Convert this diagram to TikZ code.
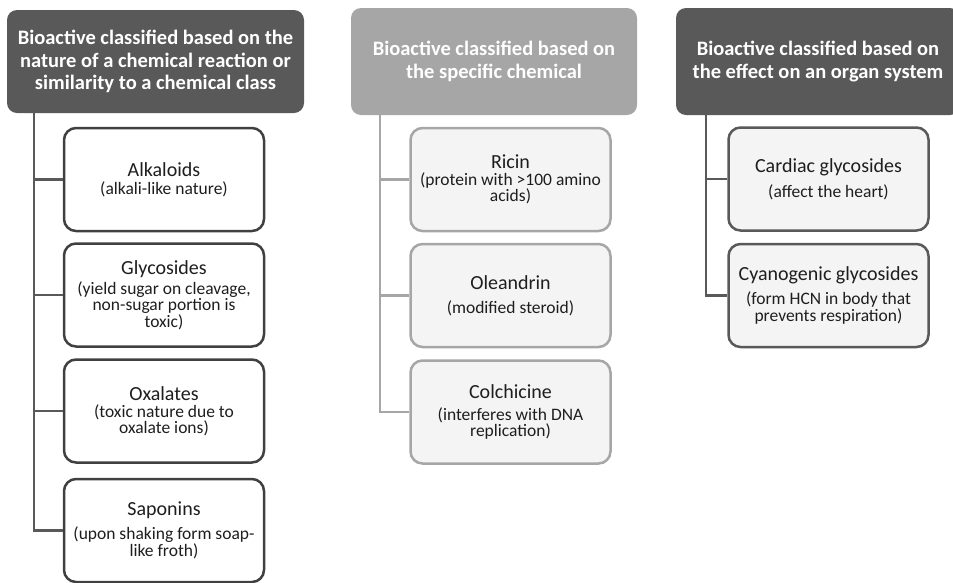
\documentclass[tikz,border=0pt]{standalone}
\usepackage{fontspec}
\setmainfont{Carlito}
\definecolor{hdark}{HTML}{595959}
\definecolor{hlight}{HTML}{A6A6A6}
\definecolor{bdark}{HTML}{404040}
\definecolor{bfill}{HTML}{F4F4F4}
\definecolor{txt}{HTML}{1E1E1E}
\tikzset{
  hdr/.style={rectangle, rounded corners=10pt, inner sep=0pt, align=center, text=white,
    font=\fontsize{20.5}{22.5}\selectfont\bfseries},
  itembox/.style={rectangle, rounded corners=12pt, line width=2.5pt, inner sep=0pt,
    minimum width=200pt, minimum height=103pt, align=center, text=txt},
  boxA/.style={itembox, draw=bdark, fill=white},
  boxB/.style={itembox, draw=hlight, fill=bfill},
  boxC/.style={itembox, draw=hdark, fill=bfill},
  conA/.style={draw=hdark, line width=2.5pt},
  conB/.style={draw=hlight, line width=2.5pt},
}
\newcommand{\ttl}[1]{{\fontsize{20}{23}\selectfont #1}}
\newcommand{\sbt}[1]{{\fontsize{17.5}{18.5}\selectfont #1}}
\begin{document}
\begin{tikzpicture}[x=1pt,y=-1pt]
\useasboundingbox (0,0) rectangle (953,582);
% headers
\node[hdr, fill=hdark, minimum width=297pt, minimum height=103pt] (h1) at (155.5,61.5)
  {Bioactive classified based on the\\nature of a chemical reaction or\\similarity to a chemical class};
\node[hdr, fill=hlight, minimum width=286pt, minimum height=107pt] (h2) at (494,61.5)
  {Bioactive classified based on\\the specific chemical};
\node[hdr, fill=hdark, minimum width=284pt, minimum height=107pt] (h3) at (818,61.5)
  {Bioactive classified based on\\the effect on an organ system};
% column 1
\node[boxA] (alk) at (164,179.5) {\ttl{Alkaloids}\\[4pt]\sbt{(alkali-like nature)}};
\node[boxA] (gly) at (164,295) {\ttl{Glycosides}\\[3pt]\sbt{(yield sugar on cleavage,}\\\sbt{non-sugar portion is}\\\sbt{toxic)}};
\node[boxA] (oxa) at (164,411) {\ttl{Oxalates}\\[3pt]\sbt{(toxic nature due to}\\\sbt{oxalate ions)}};
\node[boxA] (sap) at (164,530.5) {\ttl{Saponins}\\[7pt]\sbt{(upon shaking form soap-}\\\sbt{like froth)}};
% column 2
\node[boxB] (ric) at (510.5,179.5) {\ttl{Ricin}\\[3pt]\sbt{(protein with >100 amino}\\\sbt{acids)}};
\node[boxB] (ole) at (510.5,295.5) {\ttl{Oleandrin}\\[10pt]\sbt{(modified steroid)}};
\node[boxB] (col) at (510.5,412) {\ttl{Colchicine}\\[8pt]\sbt{(interferes with DNA}\\\sbt{replication)}};
% column 3
\node[boxC] (car) at (828.5,179) {\ttl{Cardiac glycosides}\\[8pt]\sbt{(affect the heart)}};
\node[boxC] (cya) at (828.5,295.5) {\ttl{Cyanogenic glycosides}\\[7pt]\sbt{(form HCN in body that}\\\sbt{prevents respiration)}};
% connector anchors
\coordinate (v1) at (34,112);
\coordinate (v2) at (380,114);
\coordinate (v3) at (706,114);
% connectors column 1
\draw[conA] (v1) |- (sap.west);
\draw[conA] (alk.west -| v1) -- (alk.west);
\draw[conA] (gly.west -| v1) -- (gly.west);
\draw[conA] (oxa.west -| v1) -- (oxa.west);
% connectors column 2
\draw[conB] (v2) |- (col.west);
\draw[conB] (ric.west -| v2) -- (ric.west);
\draw[conB] (ole.west -| v2) -- (ole.west);
% connectors column 3
\draw[conA] (v3) |- (cya.west);
\draw[conA] (car.west -| v3) -- (car.west);
\end{tikzpicture}
\end{document}
